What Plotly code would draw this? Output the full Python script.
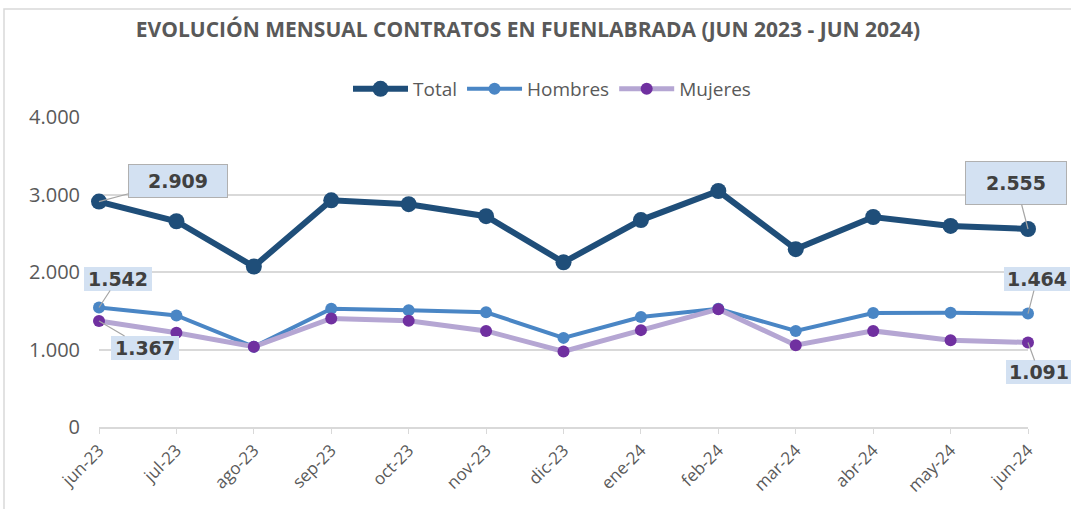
import plotly.graph_objects as go

months = ["jun-23", "jul-23", "ago-23", "sep-23", "oct-23", "nov-23", "dic-23",
          "ene-24", "feb-24", "mar-24", "abr-24", "may-24", "jun-24"]
total = [2909, 2655, 2070, 2925, 2875, 2720, 2125, 2670, 3045, 2295, 2710, 2595, 2555]
hombres = [1542, 1440, 1035, 1525, 1505, 1480, 1150, 1420, 1525, 1240, 1470, 1475, 1464]
mujeres = [1367, 1215, 1035, 1400, 1370, 1240, 975, 1250, 1520, 1055, 1240, 1120, 1091]
y_ticks = [0, 1000, 2000, 3000, 4000]
title_text = "EVOLUCIÓN MENSUAL CONTRATOS EN FUENLABRADA (JUN 2023 - JUN 2024)"

W, H = 1071, 509
ML, MR, MT, MB = 99, 43, 117, 82
PW, PH = W - ML - MR, H - MT - MB

def px_x(p):
    return (p - ML) / PW

def px_y(p):
    return (H - MB - p) / PH

fig = go.Figure()
fig.add_trace(go.Scatter(x=months, y=total, name="Total", mode="lines+markers",
                         line=dict(color="#1F4E79", width=6),
                         marker=dict(color="#1F4E79", size=16), cliponaxis=False))
fig.add_trace(go.Scatter(x=months, y=hombres, name="Hombres", mode="lines+markers",
                         line=dict(color="#4A86C5", width=4),
                         marker=dict(color="#4A86C5", size=12), cliponaxis=False))
fig.add_trace(go.Scatter(x=months, y=mujeres, name="Mujeres", mode="lines+markers",
                         line=dict(color="#B5A6D3", width=5),
                         marker=dict(color="#7030A0", size=12), cliponaxis=False))

def fmt(v):
    return f"{v:,}".replace(",", ".")

callouts = [
    (months[0], total[0], 79, -21, 94, 28, True),
    (months[-1], total[-1], -12, -46, 96, 38, True),
    (months[0], hombres[0], 19, -29, 64, 20, False),
    (months[0], mujeres[0], 46, 27, 64, 20, False),
    (months[-1], hombres[-1], 9, -35, 62, 20, False),
    (months[-1], mujeres[-1], 11, 30, 62, 20, False),
]
for xv, yv, ax, ay, w, h, border in callouts:
    fig.add_annotation(x=xv, y=yv, xref="x", yref="y", text=f"<b>{fmt(yv)}</b>",
                       showarrow=True, arrowhead=0, arrowwidth=1.2, arrowcolor="#A6A6A6",
                       ax=ax, ay=ay, width=w, height=h, borderpad=2,
                       bgcolor="#D3E1F2", bordercolor="#B0B0B0" if border else "rgba(0,0,0,0)",
                       borderwidth=1 if border else 0,
                       font=dict(family="DejaVu Sans", size=19, color="#404040"))

fig.add_shape(type="rect", xref="paper", yref="paper",
              x0=px_x(4), x1=px_x(1080), y0=px_y(9), y1=px_y(520),
              line=dict(color="#D9D9D9", width=1.5), fillcolor="rgba(0,0,0,0)", layer="below")

fig.update_layout(
    width=W, height=H,
    margin=dict(l=ML, r=MR, t=MT, b=MB, autoexpand=False),
    paper_bgcolor="white", plot_bgcolor="white",
    separators=",.",
    title=dict(text=f"<b>{title_text}</b>", x=px_x(528), xanchor="center", xref="paper",
               y=1 - 30 / H, yanchor="middle",
               font=dict(family="Open Sans", size=21, color="#595959")),
    legend=dict(orientation="h", x=px_x(552), xanchor="center", y=px_y(89), yanchor="middle",
                font=dict(family="Open Sans", size=19, color="#595959"),
                itemwidth=55, tracegroupgap=0),
    xaxis=dict(type="category", range=[0, len(months) - 1],
               tickangle=-45, showgrid=False, showline=True, linecolor="#D9D9D9", linewidth=1.5,
               ticks="outside", tickcolor="#D9D9D9", ticklen=5,
               tickfont=dict(family="Open Sans", size=17, color="#595959")),
    yaxis=dict(range=[0, 4000], tickvals=y_ticks, tickformat=",d",
               showgrid=True, gridcolor="#D9D9D9", gridwidth=1.5, zeroline=False,
               ticks="", ticklen=0, ticklabelstandoff=18,
               tickfont=dict(family="Open Sans", size=20, color="#595959")),
    showlegend=True,
)

fig.write_html("out.html", config={"displayModeBar": False},
               post_script="document.body.style.margin='0';")
